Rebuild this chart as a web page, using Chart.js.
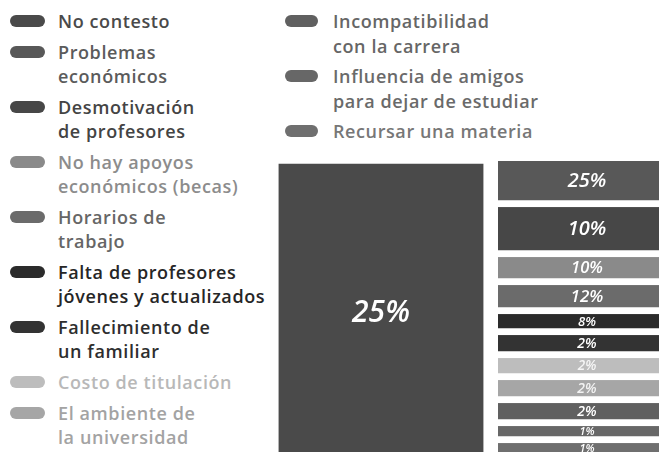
<!DOCTYPE html>
<html>
<head>
<meta charset="utf-8">
<script src="https://cdn.jsdelivr.net/npm/chart.js@4"></script>
<style>
  html, body { margin: 0; padding: 0; background: #fff; overflow: hidden; }
  body { position: relative; width: 659px; height: 452px; font-family: "Open Sans", sans-serif; }
  .legend { position: absolute; top: 9px; display: flex; flex-direction: column; }
  .legend .item { position: relative; font-size: 18px; font-weight: 600; letter-spacing: 0.6px; line-height: 24px; white-space: pre; }
  .legend .item span { position: absolute; top: 6px; height: 12px; border-radius: 6px; }
  #legendLeft { left: 10px; gap: 7px; }
  #legendLeft .item { padding-left: 48px; }
  #legendLeft .item span { left: 0; width: 35px; }
  #legendMid { left: 285px; gap: 5px; }
  #legendMid .item { padding-left: 48px; line-height: 25px; }
  #legendMid .item span { left: 0; width: 33px; top: 6px; }
  #chart { position: absolute; left: 278px; top: 161px; }
</style>
</head>
<body>
<div id="legendLeft" class="legend"></div>
<div id="legendMid" class="legend"></div>
<canvas id="chart" width="412" height="299"></canvas>
<script>
const causes = [
  "No contesto",
  "Problemas\neconómicos",
  "Desmotivación\nde profesores",
  "No hay apoyos\neconómicos (becas)",
  "Horarios de\ntrabajo",
  "Falta de profesores\njóvenes y actualizados",
  "Fallecimiento de\nun familiar",
  "Costo de titulación",
  "El ambiente de\nla universidad",
  "Incompatibilidad\ncon la carrera",
  "Influencia de amigos\npara dejar de estudiar",
  "Recursar una materia"
];
const percents = [25, 25, 10, 10, 12, 8, 2, 2, 2, 2, 1, 1];
// the infographic does not scale its blocks by percent, so these are the block units
const blockUnits = [299, 46, 50, 28, 29, 21, 23, 22, 23, 23, 17, 17];
const colors = ["#4a4a4a", "#585858", "#474747", "#8a8a8a", "#6b6b6b", "#2b2b2b",
  "#333333", "#bdbdbd", "#a6a6a6", "#606060", "#676767", "#6f6f6f"];
const textColors = ["#4a4a4a", "#5b5b5b", "#444444", "#8c8c8c", "#666666", "#262626",
  "#2e2e2e", "#b8b8b8", "#a3a3a3", "#666666", "#6a6a6a", "#777777"];

function buildLegend() {
  causes.forEach((name, i) => {
    const box = document.getElementById(i < 9 ? "legendLeft" : "legendMid");
    const row = document.createElement("div");
    row.className = "item";
    row.style.color = textColors[i];
    row.innerHTML = `<span style="background:${colors[i]}"></span>`;
    row.appendChild(document.createTextNode(name));
    box.appendChild(row);
  });
}

const datasets = causes.map((name, i) => {
  const big = i === 0;
  return {
    label: name.replace("\n", " "),
    data: big ? [blockUnits[i], null] : [null, blockUnits[i]],
    backgroundColor: colors[i],
    borderColor: "#ffffff",
    borderWidth: big ? { top: 3, bottom: 0, left: 0, right: 0 } : { top: 0, bottom: 7, left: 0, right: 0 },
    borderSkipped: false,
    barThickness: big ? 205 : 178
  };
});

const blockLabels = {
  id: "blockLabels",
  afterDatasetsDraw(chart) {
    const ctx = chart.ctx;
    ctx.save();
    chart.data.datasets.forEach((ds, i) => {
      chart.getDatasetMeta(i).data.forEach((el, j) => {
        if (ds.data[j] == null) return;
        const p = el.getProps(["x", "y", "base"], true);
        const top = Math.min(p.y, p.base) + ds.borderWidth.top;
        const bottom = Math.max(p.y, p.base) - ds.borderWidth.bottom;
        const h = bottom - top;
        const size = i === 0 ? 30 : Math.max(11, Math.min(20, h * 0.5 + 6));
        ctx.font = `italic 600 ${size}px "Open Sans", sans-serif`;
        ctx.fillStyle = i >= 7 && i <= 8 ? "rgba(255,255,255,0.85)" : "#ffffff";
        ctx.textAlign = "center";
        ctx.textBaseline = "middle";
        ctx.fillText(percents[i] + "%", p.x, (top + bottom) / 2 + 1);
      });
    });
    ctx.restore();
  }
};

buildLegend();

new Chart(document.getElementById("chart"), {
  type: "bar",
  data: { labels: ["", ""], datasets },
  options: {
    responsive: false,
    animation: false,
    layout: { padding: 0 },
    plugins: { legend: { display: false }, tooltip: { enabled: false } },
    scales: {
      x: { stacked: true, display: false },
      y: { stacked: true, display: false, min: 0, max: blockUnits[0], reverse: true }
    }
  },
  plugins: [blockLabels]
});
</script>
</body>
</html>
